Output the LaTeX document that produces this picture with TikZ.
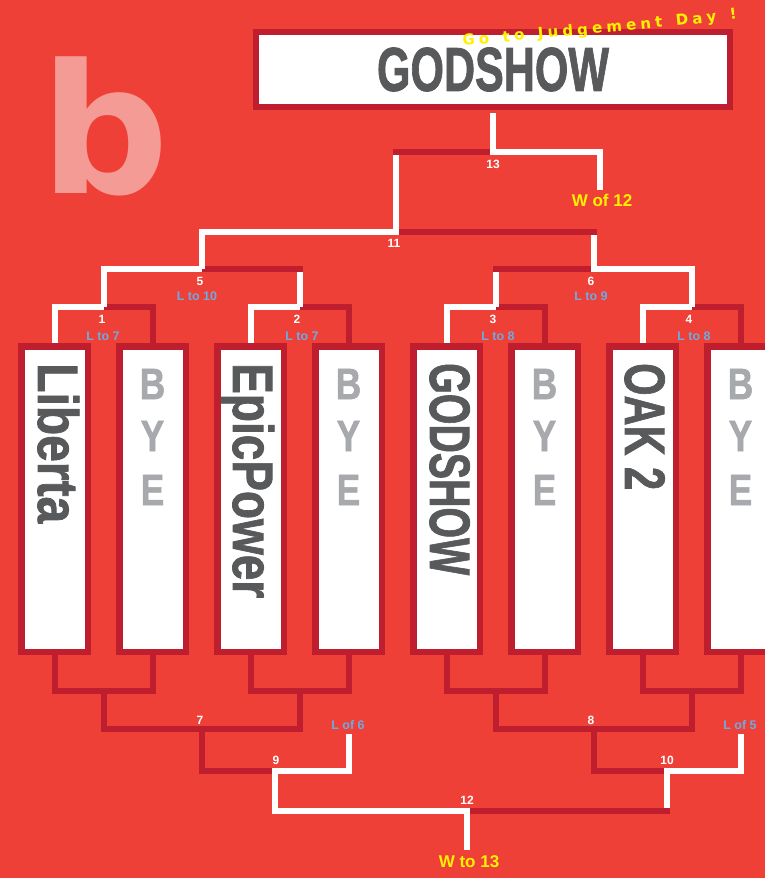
\documentclass[tikz,border=0pt]{standalone}
\usepackage{fontspec}
\setmainfont{Liberation Sans}
\newfontfamily\heavyfont{DejaVu Sans}
\newfontfamily\namefont{Liberation Sans}[BoldFeatures={FakeBold=1.5}]
\usepackage{graphicx}
\usetikzlibrary{decorations.text}
\definecolor{bgred}{RGB}{239,64,56}
\definecolor{darkred}{RGB}{190,30,45}
\definecolor{namegray}{RGB}{88,89,91}
\definecolor{byegray}{RGB}{167,169,172}
\definecolor{lblblue}{RGB}{110,170,225}
\definecolor{lblyellow}{RGB}{255,242,0}
\definecolor{bpink}{RGB}{245,155,150}
\tikzset{
  winline/.style={draw=white,line width=6pt},
  lossline/.style={draw=darkred,line width=6pt},
  slot/.style={draw=darkred,fill=white,line width=6.5pt,minimum width=66.5pt,minimum height=305.5pt,inner sep=0pt},
  matchno/.style={text=white,font=\bfseries\fontsize{12}{12}\selectfont,inner sep=0pt},
  dropto/.style={text=lblblue,font=\bfseries\fontsize{12.5}{12.5}\selectfont,inner sep=0pt},
  winnote/.style={text=lblyellow,font=\bfseries\fontsize{17}{17}\selectfont,inner sep=0pt},
  teamname/.style={rotate=-90,anchor=base west,inner sep=0pt,text=namegray,font=\namefont\bfseries\fontsize{57}{57}\selectfont},
  byeletter/.style={text=byegray,font=\namefont\bfseries\fontsize{44}{44}\selectfont,inner sep=0pt}
}

\begin{document}
\begin{tikzpicture}[x=1pt,y=-1pt]
  \fill[bgred] (0,0) rectangle (765,878);
  \useasboundingbox (0,0) rectangle (765,878);
  \clip (0,0) rectangle (765,878);
  \node[anchor=base west,inner sep=0pt,text=bpink,font=\heavyfont\bfseries\fontsize{180}{180}\selectfont] (logo) at (40.5,193) {b};
  % winner box
  \node[draw=darkred,fill=white,line width=6pt,minimum width=474pt,minimum height=75pt,inner sep=0pt] (champ) at (493,69.5)
    {\resizebox{232pt}{\height}{\color{namegray}\namefont\bfseries\fontsize{62}{62}\selectfont GODSHOW}};
  % first round slots
  \foreach \i/\cx in {1/54.5,2/152.5,3/250.5,4/348.5,5/446.5,6/544.5,7/642.5,8/740.5}
    \node[slot] (p\i) at (\cx,499) {};
  \node[teamname] (n1) at (38,363) {\resizebox{160pt}{\height}{Liberta}};
  \node[teamname] (n3) at (233,363) {\resizebox{235pt}{\height}{EpicPower}};
  \node[teamname] (n5) at (430,363) {\resizebox{212pt}{\height}{GODSHOW}};
  \node[teamname] (n7) at (625,363) {\resizebox{127pt}{\height}{OAK 2}};
  \foreach \k/\cx in {2/152.5,4/348.5,6/544.5,8/740.5}{
    \node[byeletter] (bye\k b) at (\cx,384) {\scalebox{0.8}[1]{B}};
    \node[byeletter] (bye\k y) at (\cx,436) {\scalebox{0.8}[1]{Y}};
    \node[byeletter] (bye\k e) at (\cx,490) {\scalebox{0.8}[1]{E}};
  }
  % winners side
  \foreach \a/\b/\m in {1/2/103.5,3/4/299.5,5/6/495.5,7/8/691.5}{
    \draw[winline] (p\a.north) -- (p\a.north |- 0,307) -- (\m,307);
    \draw[lossline] (\m,307) -- (p\b.north |- 0,307) -- (p\b.north);
  }
  \draw[winline] (103.5,307) -- (103.5,269) -- (201.5,269);
  \draw[lossline] (201.5,269) -- (302.5,269);
  \draw[winline] (299.5,272) -- (299.5,307);
  \draw[lossline] (492.5,269) -- (590.5,269);
  \draw[winline] (495.5,272) -- (495.5,307);
  \draw[winline] (593.5,235) -- (593.5,269) -- (691.5,269) -- (691.5,307);
  \draw[winline] (201.5,269) -- (201.5,232) -- (396,232) -- (396,155);
  \draw[lossline] (399,232) -- (596.5,232);
  \draw[lossline] (393,152) -- (490,152);
  \draw[winline] ([yshift=-3pt]champ.south) -- (493,152) -- (600,152) -- (600,190);
  % losers side
  \foreach \a/\b in {1/2,3/4,5/6,7/8}
    \draw[lossline] (p\a.south) -- (p\a.south |- 0,691) -- (p\b.south |- 0,691) -- (p\b.south);
  \draw[lossline] (103.5,691) -- (103.5,729) -- (299.5,729) -- (299.5,691);
  \draw[lossline] (495.5,691) -- (495.5,729) -- (691.5,729) -- (691.5,691);
  \draw[lossline] (201.5,729) -- (201.5,771) -- (272,771);
  \draw[lossline] (593.5,729) -- (593.5,771) -- (664,771);
  \draw[winline] (348.5,734) -- (348.5,771) -- (275,771) -- (275,811) -- (467,811) -- (467,850);
  \draw[winline] (740.5,734) -- (740.5,771) -- (667,771) -- (667,808);
  \draw[lossline] (470,811) -- (670,811);
  % labels
  \node[matchno] (m13) at (493,164) {13};
  \node[winnote] (w12) at (602,200) {W of 12};
  \node[matchno] (m11) at (394,243) {11};
  \node[matchno] (m5) at (200,281) {5};
  \node[dropto] (d5) at (197,296) {L to 10};
  \node[matchno] (m6) at (591,281) {6};
  \node[dropto] (d6) at (591,296) {L to 9};
  \node[matchno] (m1) at (102,319) {1};
  \node[dropto] (d1) at (103,336) {L to 7};
  \node[matchno] (m2) at (297,319) {2};
  \node[dropto] (d2) at (302,336) {L to 7};
  \node[matchno] (m3) at (493,319) {3};
  \node[dropto] (d3) at (498,336) {L to 8};
  \node[matchno] (m4) at (689,319) {4};
  \node[dropto] (d4) at (694,336) {L to 8};
  \node[matchno] (m7) at (200,720) {7};
  \node[matchno] (m8) at (591,720) {8};
  \node[matchno] (m9) at (276,760) {9};
  \node[matchno] (m10) at (667,760) {10};
  \node[matchno] (m12) at (467,800) {12};
  \node[dropto] (l6) at (348,725) {L of 6};
  \node[dropto] (l5) at (740,725) {L of 5};
  \node[winnote] (w13) at (469,862) {W to 13};
  \path[decorate,decoration={text along path,text align={fit to path},
    text={|\heavyfont\bfseries\fontsize{15}{15}\selectfont\color{lblyellow}|Go to Judgement Day !}}]
    (463,46) .. controls (560,36) and (660,29) .. (737,19);
\end{tikzpicture}
\end{document}
